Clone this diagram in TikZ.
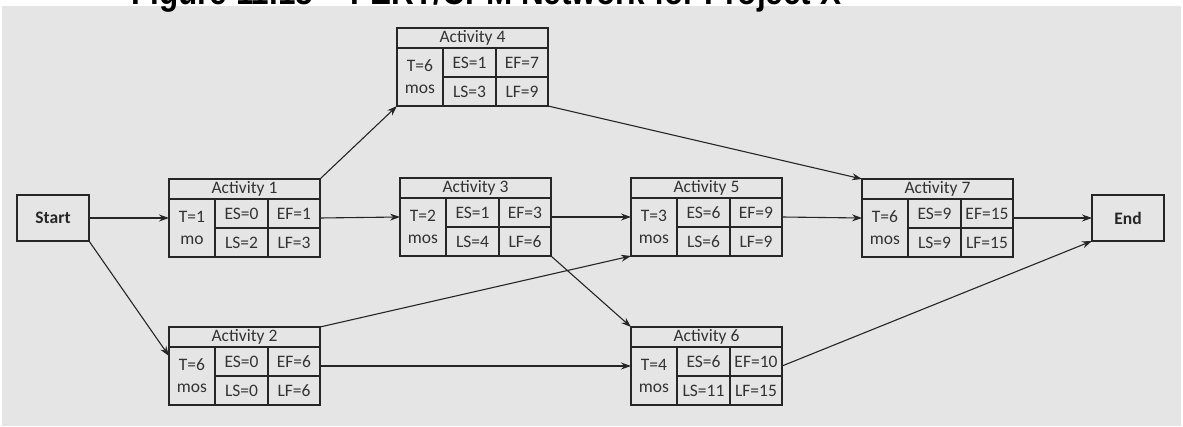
\documentclass[tikz,border=0pt]{standalone}
\usepackage{fontspec}
\setmainfont{Carlito}
\newfontfamily\titlefont[FakeStretch=0.85]{Liberation Sans}
\usepackage{tikz}
\usetikzlibrary{arrows.meta}

% one activity box: name, top-left corner, title, unit, ES, EF, LS, LF
\newcommand{\activity}[8]{%
  \node[actframe, anchor=north west] (#1) at (#2) {};
  \node[acthead, anchor=north west] (#1-h) at (#1.north west) {#3};
  \node[celltime, anchor=north west] (#1-t) at (#1-h.south west) {T=\csname dur#1\endcsname\\#4};
  \node[cellwide, anchor=north west] (#1-es) at (#1-t.north east) {ES=#5};
  \node[cellnarrow, anchor=north west] (#1-ef) at (#1-es.north east) {EF=#6};
  \node[cellwide, anchor=north west] (#1-ls) at (#1-es.south west) {LS=#7};
  \node[cellnarrow, anchor=north west] (#1-lf) at (#1-ls.north east) {LF=#8};
}

\begin{document}
\begin{tikzpicture}[x=1pt, y=-1pt, font=\fontsize{17.5}{22}\selectfont]
  % Style definitions
  \tikzstyle{box} = [draw=black!85, line width=1.4pt, inner sep=0pt, outer sep=0pt, text=black!80]
  \tikzstyle{actframe} = [box, minimum width=151pt, minimum height=78pt]
  \tikzstyle{acthead} = [box, minimum width=151pt, minimum height=20pt]
  \tikzstyle{celltime} = [box, minimum width=46pt, minimum height=58pt, align=center]
  \tikzstyle{cellwide} = [box, minimum width=53pt, minimum height=29pt]
  \tikzstyle{cellnarrow} = [box, minimum width=52pt, minimum height=29pt]
  \tikzstyle{terminal} = [box, minimum width=72pt, minimum height=46pt, font=\fontsize{17.5}{22}\selectfont\bfseries, text=black!85]
  \tikzstyle{link} = [line width=1.1pt, draw=black!85, -{Stealth[length=10pt, width=7pt]}]

  \useasboundingbox (0,0) rectangle (1183,427);
  \fill[black!10] (2,6) rectangle (1181,426);
  \node[anchor=base west, inner sep=0pt, font={\titlefont\fontsize{37}{40}\selectfont\bfseries}] (title) at (131,5) {Figure 11.18\quad PERT/CPM Network for Project X};

  % Start and end
  \node[terminal] (start) at (53,218) {Start};
  \node[terminal] (end) at (1128,218) {End};

  % Activities
  \def\dura{1}\def\durb{6}\def\durc{2}\def\durd{6}\def\dure{3}\def\durf{4}\def\durg{6}
  \activity{a}{169,179}{Activity 1}{mo}{0}{1}{2}{3}
  \activity{b}{169,327}{Activity 2}{mos}{0}{6}{0}{6}
  \activity{c}{400,178}{Activity 3}{mos}{1}{3}{4}{6}
  \activity{d}{397,28}{Activity 4}{mos}{1}{7}{3}{9}
  \activity{e}{631,178}{Activity 5}{mos}{6}{9}{6}{9}
  \activity{f}{631,327}{Activity 6}{mos}{6}{10}{11}{15}
  \activity{g}{862,179}{Activity 7}{mos}{9}{15}{9}{15}

  % Arrows
  \draw[link] (start.east) -- (a.west);
  \draw[link] (start.south east) -- ([yshift=10pt]b.west);
  \draw[link] (a.north east) -- (d.south west);
  \draw[link] (a.east) -- (c.west);
  \draw[link] (b.north east) -- (e.south west);
  \draw[link] (b.east) -- (f.west);
  \draw[link] (c.east) -- (e.west);
  \draw[link] (c.south east) -- (f.north west);
  \draw[link] (d.south east) -- (g.north west);
  \draw[link] (e.east) -- (g.west);
  \draw[link] (g.east) -- (end.west);
  \draw[link] (f.east) -- (end.south west);
\end{tikzpicture}
\end{document}
